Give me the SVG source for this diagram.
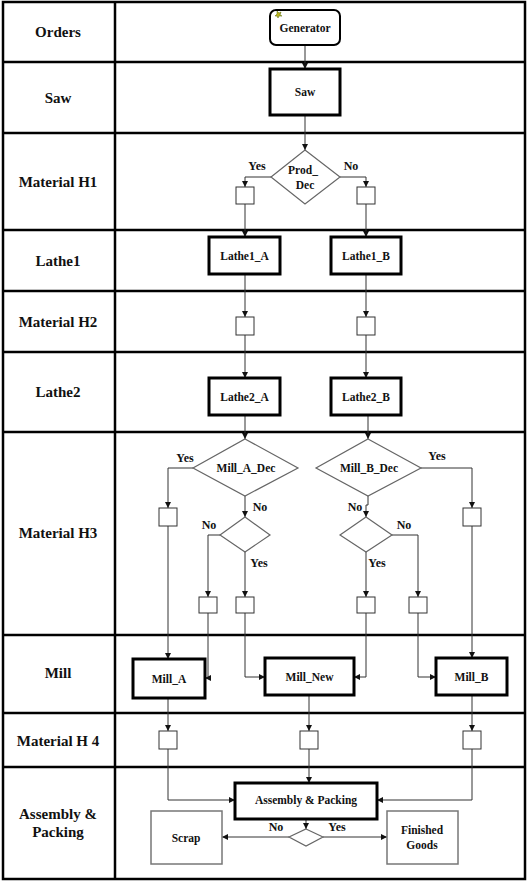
<svg xmlns="http://www.w3.org/2000/svg" width="529" height="884" viewBox="0 0 529 884">
<style>
.lane{font-family:"Liberation Serif","Times New Roman","DejaVu Serif",serif;font-weight:bold;font-size:15px;fill:#111;text-anchor:middle}
.nt{font-family:"Liberation Serif","Times New Roman","DejaVu Serif",serif;font-weight:bold;font-size:11.5px;fill:#111;text-anchor:middle}
.lb{font-family:"Liberation Serif","Times New Roman","DejaVu Serif",serif;font-weight:bold;font-size:12px;fill:#111;text-anchor:middle}
.grid{stroke:#000;stroke-width:2.5;fill:none}
.proc{fill:#fff;stroke:#000;stroke-width:3}
.q{fill:#fff;stroke:#333;stroke-width:1}
.dia{fill:#fff;stroke:#666;stroke-width:1.2}
.out{fill:#fff;stroke:#777;stroke-width:1.5}
.c{fill:none;stroke:#333;stroke-width:1;marker-end:url(#ah)}
</style>
<defs>
<marker id="ah" markerWidth="7" markerHeight="7" refX="6" refY="3" orient="auto" markerUnits="userSpaceOnUse">
<path d="M0,0 L6,3 L0,6 z" fill="#111"/>
</marker>
</defs>
<rect width="529" height="884" fill="#fff"/>
<g id="table">
<rect class="grid" x="3" y="2" width="522" height="877"/>
<line class="grid" x1="115" y1="2" x2="115" y2="879"/>
<line class="grid" x1="3" y1="62" x2="525" y2="62"/>
<line class="grid" x1="3" y1="133" x2="525" y2="133"/>
<line class="grid" x1="3" y1="230" x2="525" y2="230"/>
<line class="grid" x1="3" y1="291" x2="525" y2="291"/>
<line class="grid" x1="3" y1="352" x2="525" y2="352"/>
<line class="grid" x1="3" y1="432" x2="525" y2="432"/>
<line class="grid" x1="3" y1="635" x2="525" y2="635"/>
<line class="grid" x1="3" y1="713" x2="525" y2="713"/>
<line class="grid" x1="3" y1="767" x2="525" y2="767"/>
</g>
<g id="lanes">
<text class="lane" x="58" y="37">Orders</text>
<text class="lane" x="58" y="103">Saw</text>
<text class="lane" x="58" y="187">Material H1</text>
<text class="lane" x="58" y="266">Lathe1</text>
<text class="lane" x="58" y="327">Material H2</text>
<text class="lane" x="58" y="397">Lathe2</text>
<text class="lane" x="58" y="538">Material H3</text>
<text class="lane" x="58" y="678">Mill</text>
<text class="lane" x="58" y="746">Material H 4</text>
<text class="lane" x="58" y="819">Assembly &amp;</text>
<text class="lane" x="58" y="837">Packing</text>
</g>
<g id="connectors">
<path class="c" d="M305,45 V69"/>
<path class="c" d="M305,115 V150"/>
<path class="c" d="M271,177 H245 V187"/>
<path class="c" d="M340,177 H366 V187"/>
<path class="c" d="M245,204 V237"/>
<path class="c" d="M366,204 V237"/>
<path class="c" d="M245,274 V317"/>
<path class="c" d="M366,274 V317"/>
<path class="c" d="M245,335 V378"/>
<path class="c" d="M366,335 V378"/>
<path class="c" d="M245,415 V439"/>
<path class="c" d="M368,415 V439"/>
<path class="c" d="M193,468 H168 V508"/>
<path class="c" d="M245,496 V517"/>
<path class="c" d="M220,535 H208 V597"/>
<path class="c" d="M245,552 V597"/>
<path class="c" d="M421,468 H472 V508"/>
<path class="c" d="M368,496 V505 H366 V517"/>
<path class="c" d="M392,535 H418 V597"/>
<path class="c" d="M366,552 V597"/>
<path class="c" d="M168,526 V659"/>
<path class="c" d="M208,613 V678 H205"/>
<path class="c" d="M245,613 V677 H265"/>
<path class="c" d="M366,613 V677 H354"/>
<path class="c" d="M418,613 V677 H436"/>
<path class="c" d="M472,526 V658"/>
<path class="c" d="M168,698 V731"/>
<path class="c" d="M309,695 V731"/>
<path class="c" d="M472,695 V731"/>
<path class="c" d="M168,749 V800 H235"/>
<path class="c" d="M309,749 V783"/>
<path class="c" d="M472,749 V800 H377"/>
<path class="c" d="M306,819 V829"/>
<path class="c" d="M289,837 H222"/>
<path class="c" d="M323,837 H387"/>
</g>
<g id="labels">
<text class="lb" x="257" y="170">Yes</text>
<text class="lb" x="351" y="170">No</text>
<text class="lb" x="185" y="462">Yes</text>
<text class="lb" x="260" y="511">No</text>
<text class="lb" x="209" y="529">No</text>
<text class="lb" x="259" y="567">Yes</text>
<text class="lb" x="437" y="460">Yes</text>
<text class="lb" x="355" y="511">No</text>
<text class="lb" x="404" y="529">No</text>
<text class="lb" x="377" y="567">Yes</text>
<text class="lb" x="276" y="831">No</text>
<text class="lb" x="337" y="831">Yes</text>
</g>
<g id="generator">
<rect x="270" y="10" width="70" height="35" rx="6" fill="#fff" stroke="#000" stroke-width="2"/>
<path d="M277,11 l2,2 l2,-1 l-1,3 l2,1 l-3,0 l-1,2 l-1,-2 l-2,0 l2,-2 z" fill="#b8b020" stroke="#556b00" stroke-width="0.5"/>
<text class="nt" x="305" y="32">Generator</text>
</g>
<g id="saw">
<rect class="proc" x="270" y="69" width="70" height="46"/>
<text class="nt" x="305" y="96">Saw</text>
</g>
<g id="prod_dec">
<polygon class="dia" points="305,150 340,177 305,204 271,177"/>
<text class="nt" x="303" y="174">Prod_</text>
<text class="nt" x="305" y="189">Dec</text>
</g>
<g id="h1_a"><rect class="q" x="236" y="187" width="18" height="17"/></g>
<g id="h1_b"><rect class="q" x="357" y="187" width="18" height="17"/></g>
<g id="lathe1_a">
<rect class="proc" x="209" y="237" width="71" height="37"/>
<text class="nt" x="244.5" y="260">Lathe1_A</text>
</g>
<g id="lathe1_b">
<rect class="proc" x="331" y="237" width="70" height="37"/>
<text class="nt" x="366" y="260">Lathe1_B</text>
</g>
<g id="h2_a"><rect class="q" x="236" y="317" width="18" height="18"/></g>
<g id="h2_b"><rect class="q" x="357" y="317" width="18" height="18"/></g>
<g id="lathe2_a">
<rect class="proc" x="209" y="378" width="71" height="37"/>
<text class="nt" x="244.5" y="401">Lathe2_A</text>
</g>
<g id="lathe2_b">
<rect class="proc" x="331" y="378" width="70" height="37"/>
<text class="nt" x="366" y="401">Lathe2_B</text>
</g>
<g id="mill_a_dec">
<polygon class="dia" points="245,439 298,468 245,496 193,468"/>
<text class="nt" x="246" y="472">Mill_A_Dec</text>
</g>
<g id="mill_a_sub">
<polygon class="dia" points="245,517 270,535 245,552 220,535"/>
</g>
<g id="mill_b_dec">
<polygon class="dia" points="368,439 421,468 368,496 316,468"/>
<text class="nt" x="369" y="472">Mill_B_Dec</text>
</g>
<g id="mill_b_sub">
<polygon class="dia" points="366,517 392,535 366,552 340,535"/>
</g>
<g id="h3_a_yes"><rect class="q" x="159" y="508" width="18" height="18"/></g>
<g id="h3_a_no"><rect class="q" x="199" y="597" width="18" height="16"/></g>
<g id="h3_a_new"><rect class="q" x="236" y="597" width="18" height="16"/></g>
<g id="h3_b_new"><rect class="q" x="357" y="597" width="18" height="16"/></g>
<g id="h3_b_no"><rect class="q" x="409" y="597" width="18" height="16"/></g>
<g id="h3_b_yes"><rect class="q" x="463" y="508" width="18" height="18"/></g>
<g id="mill_a">
<rect class="proc" x="133" y="659" width="72" height="39"/>
<text class="nt" x="169" y="683">Mill_A</text>
</g>
<g id="mill_new">
<rect class="proc" x="265" y="658" width="89" height="37"/>
<text class="nt" x="309.5" y="681">Mill_New</text>
</g>
<g id="mill_b">
<rect class="proc" x="436" y="658" width="71" height="37"/>
<text class="nt" x="471.5" y="681">Mill_B</text>
</g>
<g id="h4_a"><rect class="q" x="159" y="731" width="18" height="18"/></g>
<g id="h4_new"><rect class="q" x="300" y="731" width="18" height="18"/></g>
<g id="h4_b"><rect class="q" x="463" y="731" width="18" height="18"/></g>
<g id="assembly">
<rect class="proc" x="235" y="783" width="142" height="36"/>
<text class="nt" x="306" y="804">Assembly &amp; Packing</text>
</g>
<g id="qc_dec">
<polygon class="dia" points="306,829 323,837 306,846 289,837"/>
</g>
<g id="scrap">
<rect class="out" x="151" y="811" width="71" height="53"/>
<text class="nt" x="186" y="842">Scrap</text>
</g>
<g id="finished">
<rect class="out" x="387" y="811" width="71" height="53"/>
<text class="nt" x="422" y="834">Finished</text>
<text class="nt" x="422" y="849">Goods</text>
</g>
</svg>
